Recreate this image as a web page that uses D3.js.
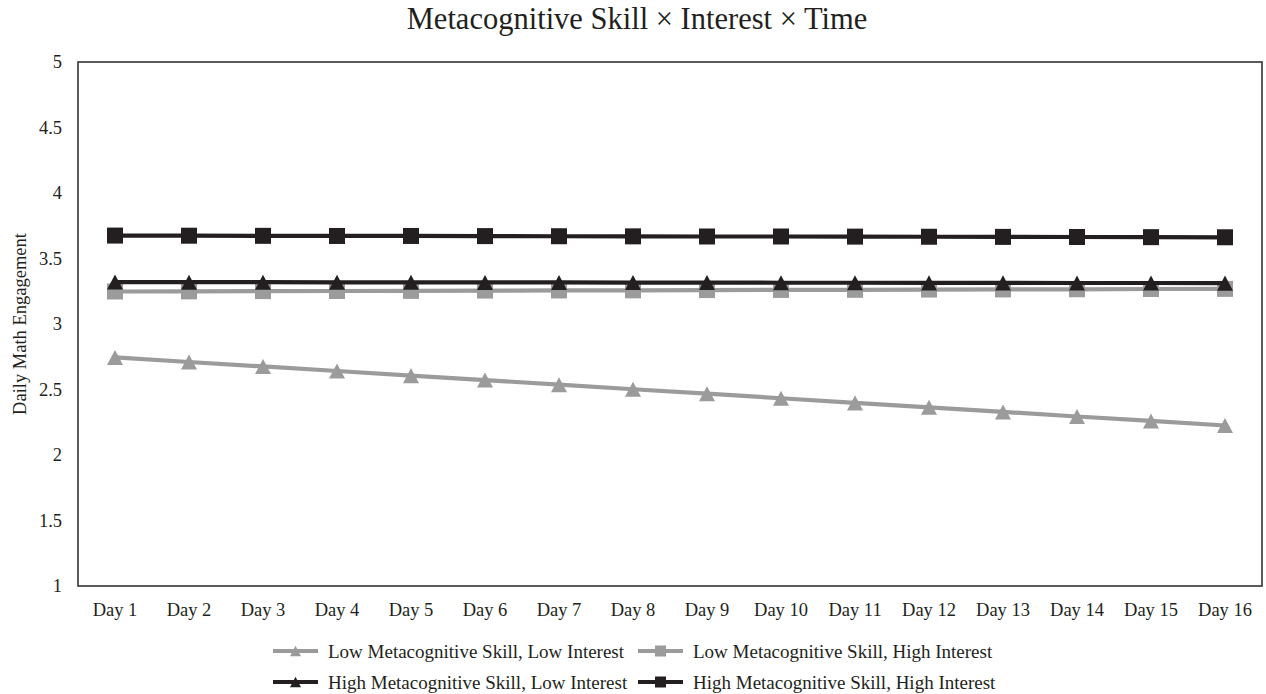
<!DOCTYPE html>
<html>
<head>
<meta charset="utf-8">
<script src="https://cdn.jsdelivr.net/npm/d3@7"></script>
<style>
html,body{margin:0;padding:0;background:#fff;}
svg{display:block;font-family:"Liberation Serif","Times New Roman",serif;}
</style>
</head>
<body>
<svg id="chart" width="1266" height="694"></svg>
<script>
const title = "Metacognitive Skill × Interest × Time";
const yTitle = "Daily Math Engagement";
const days = ["Day 1","Day 2","Day 3","Day 4","Day 5","Day 6","Day 7","Day 8","Day 9","Day 10","Day 11","Day 12","Day 13","Day 14","Day 15","Day 16"];
const yTicks = [1,1.5,2,2.5,3,3.5,4,4.5,5];
const seriesNames = ["Low Metacognitive Skill, Low Interest","Low Metacognitive Skill, High Interest","High Metacognitive Skill, Low Interest","High Metacognitive Skill, High Interest"];
const lowLow = [2.745,2.710,2.676,2.641,2.606,2.572,2.537,2.502,2.468,2.433,2.398,2.364,2.329,2.294,2.260,2.225];
const lowHigh = [3.248,3.249,3.251,3.252,3.253,3.255,3.256,3.257,3.259,3.260,3.261,3.263,3.264,3.265,3.267,3.268];
const highLow = [3.320,3.319,3.319,3.318,3.318,3.317,3.317,3.316,3.316,3.315,3.315,3.314,3.314,3.313,3.313,3.312];
const highHigh = [3.675,3.674,3.673,3.672,3.672,3.671,3.670,3.669,3.668,3.668,3.667,3.666,3.665,3.664,3.663,3.662];

const GRAY = "#9b9b9b", BLACK = "#231f20";
const series = [
  {name: seriesNames[0], values: lowLow, color: GRAY, shape: "tri"},
  {name: seriesNames[1], values: lowHigh, color: GRAY, shape: "sq"},
  {name: seriesNames[2], values: highLow, color: BLACK, shape: "tri"},
  {name: seriesNames[3], values: highHigh, color: BLACK, shape: "sq"}
];

const svg = d3.select("#chart");
const L = 78, R = 1262, T = 62, B = 586;
const x = d3.scaleBand().domain(days).range([L, R]);
const y = d3.scaleLinear().domain([1,5]).range([B, T]);

svg.append("text").attr("x", 637).attr("y", 29).attr("text-anchor","middle")
  .attr("font-size", 30.5).attr("fill", BLACK).text(title);

const yAxis = d3.axisLeft(y).tickValues(yTicks).tickSize(0).tickPadding(16).tickFormat(d3.format("~g"));
const ga = svg.append("g").attr("transform", `translate(${L},0)`).call(yAxis);
ga.select(".domain").remove();
ga.selectAll("text").attr("font-size", 18.5).attr("fill", BLACK).attr("font-family", "Liberation Serif, serif");

const xAxis = d3.axisBottom(x).tickSize(0).tickPadding(17);
const gx = svg.append("g").attr("transform", `translate(0,${B})`).call(xAxis);
gx.select(".domain").remove();
gx.selectAll("text").attr("font-size", 18.5).attr("fill", BLACK).attr("font-family", "Liberation Serif, serif");

svg.append("text").attr("transform", `translate(20,${(T+B)/2}) rotate(-90)`)
  .attr("text-anchor","middle").attr("dy","0.35em").attr("font-size", 18.5).attr("fill", BLACK).text(yTitle);

svg.append("rect").attr("x", L).attr("y", T).attr("width", R-L).attr("height", B-T)
  .attr("fill","none").attr("stroke","#333").attr("stroke-width",1.6);

function markerPath(shape, s) {
  if (shape === "sq") return `M${-s/2},${-s/2}h${s}v${s}h${-s}Z`;
  const h = s*0.94;
  return `M0,${-h/2}L${s/2},${h/2}L${-s/2},${h/2}Z`;
}

const line = d3.line().x((d,i) => x(days[i]) + x.bandwidth()/2).y(d => y(d));
series.forEach(s => {
  const g = svg.append("g");
  g.append("path").datum(s.values).attr("d", line).attr("fill","none")
    .attr("stroke", s.color).attr("stroke-width", 4.2);
  g.selectAll("path.m").data(s.values).enter().append("path").attr("class","m")
    .attr("transform", (d,i) => `translate(${x(days[i]) + x.bandwidth()/2},${y(d)})`)
    .attr("d", markerPath(s.shape, 16)).attr("fill", s.color);
});

const legPos = [[273,651],[638,651],[273,682],[638,682]];
series.forEach((s,i) => {
  const [lx, ly] = legPos[i];
  const g = svg.append("g").attr("transform", `translate(${lx},${ly})`);
  g.append("line").attr("x1",0).attr("x2",45).attr("y1",0).attr("y2",0)
    .attr("stroke", s.color).attr("stroke-width", 4.2);
  g.append("path").attr("transform","translate(22.5,0)").attr("d", markerPath(s.shape, 11)).attr("fill", s.color);
  g.append("text").attr("x", 55).attr("y", 0).attr("dy","0.35em").attr("font-size", 19)
    .attr("fill", BLACK).text(s.name);
});
</script>
</body>
</html>
